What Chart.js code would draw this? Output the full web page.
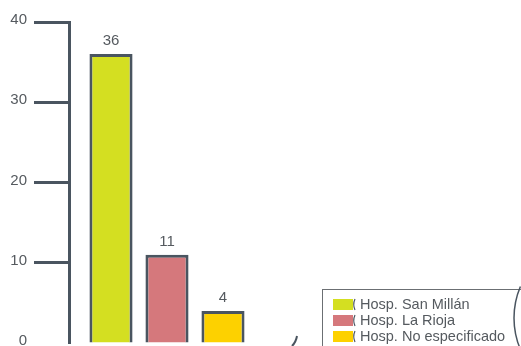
<!DOCTYPE html>
<html lang="es">
<head>
    <meta charset="UTF-8">
    <title>Hospitales</title>
    <style>
        body {
            margin: 0;
            overflow: hidden;
            background: #fff;
        }
        #wrap {
            width: 521px;
            height: 400px;
        }
    </style>
</head>
<body>
    <div id="wrap"><canvas id="myChart" width="521" height="400"></canvas></div>

    <script src="https://cdn.jsdelivr.net/npm/chart.js"></script>
    <script>
        // Datos
        const hospitales = ['Hosp. San Millán', 'Hosp. La Rioja', 'Hosp. No especificado'];
        const valores = [36, 11, 4];
        const colores = ['#d4df21', '#d5787c', '#fdd100'];
        const ticksY = [0, 10, 20, 30, 40];

        const gris = '#4a5560';
        const texto = '#555a5f';
        Chart.defaults.font.family = 'Arial, "Liberation Sans", sans-serif';

        // Etiquetas encima de cada barra
        const etiquetasBarras = {
            id: 'etiquetasBarras',
            afterDatasetsDraw(chart) {
                const ctx = chart.ctx;
                ctx.save();
                ctx.fillStyle = texto;
                ctx.font = '15px Arial, "Liberation Sans", sans-serif';
                ctx.textAlign = 'center';
                ctx.textBaseline = 'middle';
                chart.data.datasets.forEach((ds, i) => {
                    const bar = chart.getDatasetMeta(i).data[0];
                    ctx.fillText(ds.data[0], bar.x, bar.y - 13);
                });
                ctx.restore();
            }
        };

        // Leyenda en recuadro (abajo a la derecha) y restos de otros graficos
        const leyendaCaja = {
            id: 'leyendaCaja',
            afterDraw(chart) {
                const ctx = chart.ctx;
                ctx.save();
                ctx.strokeStyle = '#6b6f73';
                ctx.lineWidth = 1;
                ctx.strokeRect(322.5, 289.5, 260, 100);

                ctx.font = '14.5px Arial, "Liberation Sans", sans-serif';
                ctx.textBaseline = 'middle';
                hospitales.forEach((h, i) => {
                    const y = 299 + i * 16;
                    ctx.fillStyle = colores[i];
                    ctx.fillRect(333, y, 20, 11);
                    ctx.strokeStyle = gris;
                    ctx.lineWidth = 1.2;
                    ctx.beginPath();
                    ctx.moveTo(355, y);
                    ctx.quadraticCurveTo(352.5, y + 5.5, 355, y + 11);
                    ctx.stroke();
                    ctx.fillStyle = texto;
                    ctx.fillText(h, 360, y + 6);
                });

                ctx.strokeStyle = gris;
                ctx.lineWidth = 1.5;
                ctx.beginPath();
                ctx.arc(595, 318, 81, Math.PI - 0.4, Math.PI + 0.4);
                ctx.stroke();

                ctx.lineWidth = 2;
                ctx.beginPath();
                ctx.moveTo(297, 336);
                ctx.quadraticCurveTo(296, 342, 292, 346);
                ctx.stroke();
                ctx.restore();
            }
        };

        const ctx = document.getElementById('myChart').getContext('2d');
        new Chart(ctx, {
            type: 'bar',
            data: {
                labels: [''],
                datasets: hospitales.map((h, i) => ({
                    label: h,
                    data: [valores[i]],
                    backgroundColor: colores[i],
                    borderColor: gris,
                    borderWidth: 3,
                    categoryPercentage: 0.857,
                    barPercentage: 0.77
                }))
            },
            options: {
                responsive: false,
                animation: false,
                layout: {
                    padding: { top: 22, bottom: 57, left: 0, right: 256 }
                },
                plugins: {
                    legend: { display: false },
                    tooltip: { enabled: false }
                },
                scales: {
                    x: { display: false },
                    y: {
                        min: 0,
                        max: 40,
                        afterBuildTicks(scale) {
                            scale.ticks = ticksY.map(v => ({ value: v }));
                        },
                        afterFit(scale) {
                            scale.width = 69;
                        },
                        ticks: {
                            color: texto,
                            font: { size: 15 },
                            padding: 7,
                            labelOffset: -2
                        },
                        grid: {
                            drawOnChartArea: false,
                            drawTicks: true,
                            tickLength: 35,
                            tickWidth: 3,
                            tickColor: c => (c.tick && c.tick.value === 0 ? 'rgba(0,0,0,0)' : gris)
                        },
                        border: {
                            display: true,
                            color: gris,
                            width: 3
                        }
                    }
                }
            },
            plugins: [etiquetasBarras, leyendaCaja]
        });
    </script>
</body>
</html>
